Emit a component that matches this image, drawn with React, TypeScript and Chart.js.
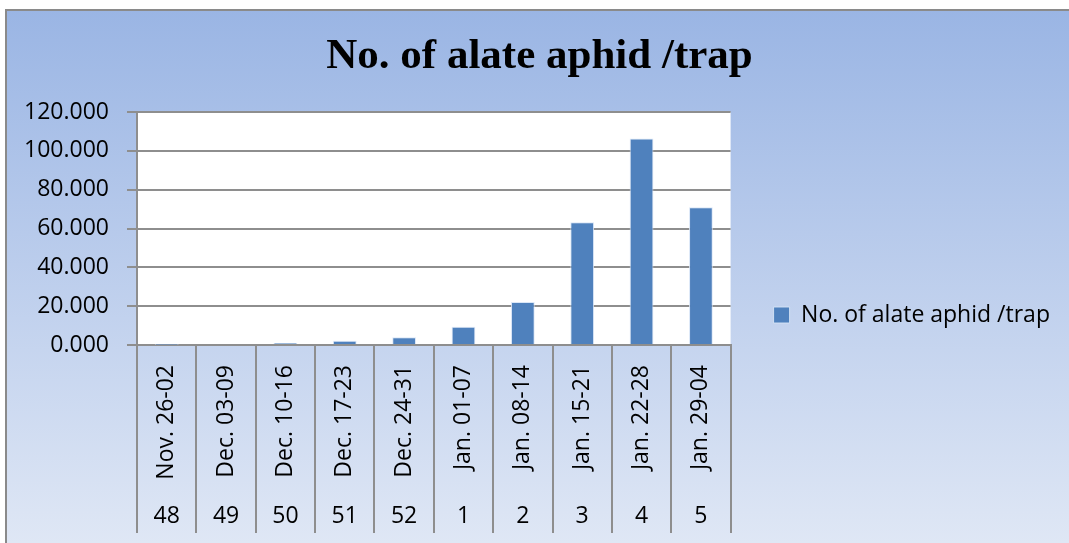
import { useEffect, useRef } from 'react';
import { Chart, registerables } from 'chart.js';

Chart.register(...registerables);

// ---- data ----
const periods = [
  'Nov. 26-02',
  'Dec. 03-09',
  'Dec. 10-16',
  'Dec. 17-23',
  'Dec. 24-31',
  'Jan. 01-07',
  'Jan. 08-14',
  'Jan. 15-21',
  'Jan. 22-28',
  'Jan. 29-04',
];
const weekNumbers = ['48', '49', '50', '51', '52', '1', '2', '3', '4', '5'];
const aphidsPerTrap = [0.1, 0.5, 1.0, 2.2, 4.0, 9.4, 22.1, 63.2, 106.4, 70.9];
const yTickValues = [0, 20, 40, 60, 80, 100, 120];
const seriesLabel = 'No. of alate aphid /trap';
const chartTitle = 'No. of alate aphid /trap';

const GRID = '#8e8e8e';
const TICK_FONT = { family: "'Open Sans', 'Noto Sans', sans-serif", size: 23 };

const backgroundPlugin = {
  id: 'excelBackground',
  beforeDraw(chart: any) {
    const { ctx, width, height, chartArea } = chart;
    ctx.save();
    ctx.fillStyle = '#ffffff';
    ctx.fillRect(0, 0, width, height);
    const g = ctx.createLinearGradient(0, 9, 0, height);
    g.addColorStop(0, '#9ab5e4');
    g.addColorStop(1, '#dfe7f5');
    ctx.fillStyle = g;
    ctx.fillRect(5, 9, width - 5, height - 9);
    ctx.strokeStyle = '#8a8a8a';
    ctx.lineWidth = 2;
    ctx.beginPath();
    ctx.moveTo(6, height);
    ctx.lineTo(6, 10);
    ctx.lineTo(width, 10);
    ctx.stroke();
    ctx.fillStyle = '#ffffff';
    ctx.fillRect(
      chartArea.left,
      chartArea.top,
      chartArea.right - chartArea.left,
      chartArea.bottom - chartArea.top
    );
    ctx.restore();
  },
};

export default function App() {
  const canvasRef = useRef<HTMLCanvasElement | null>(null);

  useEffect(() => {
    document.body.style.margin = '0';
    const canvas = canvasRef.current;
    if (!canvas) return;
    const chart = new Chart(canvas, {
      type: 'bar',
      data: {
        labels: periods,
        datasets: [
          {
            label: seriesLabel,
            data: aphidsPerTrap,
            backgroundColor: '#4f81bd',
            borderColor: 'rgba(215,228,246,0.9)',
            borderWidth: 1,
            barPercentage: 0.4,
            categoryPercentage: 1.0,
            xAxisID: 'x',
            yAxisID: 'y',
          },
        ],
      },
      plugins: [backgroundPlugin],
      options: {
        responsive: false,
        animation: false,
        events: [],
        layout: { padding: { left: 20, right: 10, top: 0, bottom: 0 } },
        plugins: {
          title: {
            display: true,
            text: chartTitle,
            color: '#000',
            font: {
              family: "'Liberation Serif', 'Times New Roman', serif",
              size: 43,
              weight: 'bold',
              lineHeight: 1.2,
            },
            padding: { top: 30.6, bottom: 29.8 },
          },
          legend: {
            display: true,
            position: 'right',
            maxWidth: 328.4,
            title: {
              display: true,
              text: '',
              font: { size: 12, lineHeight: 1.2 },
              padding: { top: 72.6, bottom: 0 },
            },
            labels: {
              boxWidth: 16,
              boxHeight: 16,
              padding: 43,
              color: '#000',
              font: TICK_FONT,
            },
          },
          tooltip: { enabled: false },
        },
        scales: {
          x: {
            type: 'category',
            position: 'bottom',
            weight: 0,
            offset: true,
            grid: {
              offset: true,
              drawOnChartArea: false,
              drawTicks: true,
              tickLength: 188,
              color: GRID,
              lineWidth: 2,
            },
            border: { display: true, color: GRID, width: 2 },
            ticks: {
              autoSkip: false,
              minRotation: 90,
              maxRotation: 90,
              padding: -168,
              color: '#000',
              font: TICK_FONT,
            },
            afterFit: (s: any) => {
              s.height = 150;
            },
          },
          x2: {
            type: 'category',
            position: 'bottom',
            weight: 1,
            labels: weekNumbers,
            offset: true,
            grid: { display: false, drawTicks: false },
            border: { display: false },
            ticks: {
              autoSkip: false,
              minRotation: 0,
              maxRotation: 0,
              padding: 8,
              color: '#000',
              font: TICK_FONT,
            },
            afterFit: (s: any) => {
              s.height = 48;
            },
          },
          y: {
            type: 'linear',
            position: 'left',
            min: 0,
            max: 120,
            afterBuildTicks: (s: any) => {
              s.ticks = yTickValues.map((v) => ({ value: v }));
            },
            ticks: {
              callback: (v: any) => Number(v).toFixed(3),
              padding: 18,
              color: '#000',
              font: TICK_FONT,
            },
            grid: { color: GRID, lineWidth: 2, tickLength: 10 },
            border: { display: true, color: GRID, width: 2 },
            afterFit: (s: any) => {
              s.width = 117;
            },
          },
        },
      } as any,
    });
    return () => chart.destroy();
  }, []);

  return (
    <div style={{ width: 1069, height: 543, overflow: 'hidden' }}>
      <canvas ref={canvasRef} width={1069} height={543} style={{ display: 'block' }} />
    </div>
  );
}
